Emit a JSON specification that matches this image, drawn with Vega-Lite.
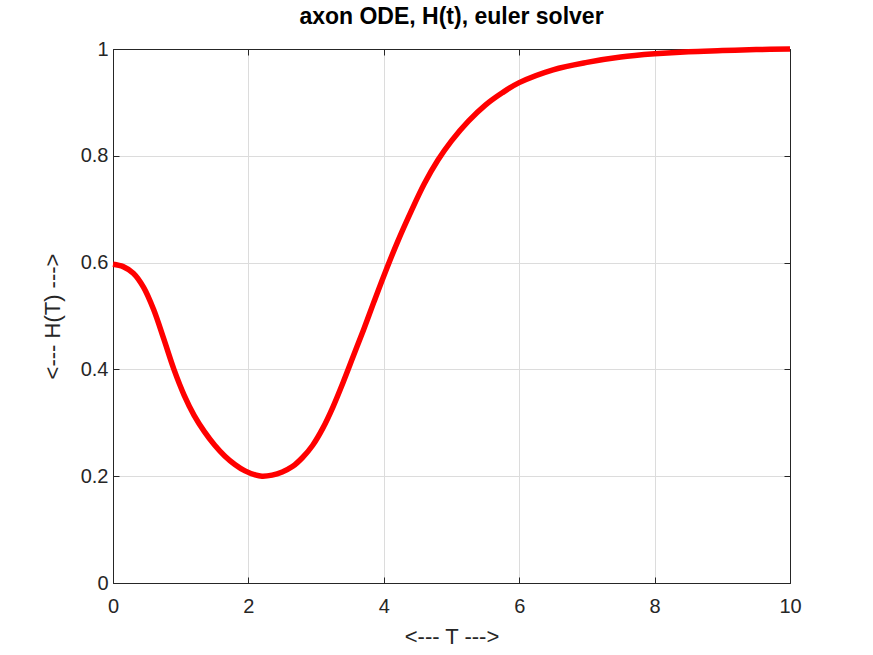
{
  "$schema": "https://vega.github.io/schema/vega-lite/v6.json",
  "autosize": {"type": "none"},
  "width": 677,
  "height": 534,
  "padding": {"left": 113, "top": 49, "right": 83, "bottom": 72},
  "background": "white",
  "title": {"text": "axon ODE, H(t), euler solver", "font": "Liberation Sans", "fontSize": 23, "fontWeight": "bold", "color": "#000000", "offset": 9, "anchor": "middle"},
  "config": {
    "view": {"stroke": "#262626", "strokeWidth": 1},
    "axis": {"labelFont": "Liberation Sans", "titleFont": "Liberation Sans", "labelFontSize": 20, "titleFontSize": 22, "titleFontWeight": "normal", "labelColor": "#262626", "titleColor": "#262626", "domainColor": "#262626", "tickColor": "#262626", "gridColor": "#dcdcdc", "gridWidth": 1, "gridOpacity": 1, "tickSize": -6, "tickWidth": 1, "labelFlush": false, "labelOverlap": false}
  },
  "data": {"values": [
    {"t": 0, "h": 0.597}, {"t": 0.15, "h": 0.5925}, {"t": 0.3, "h": 0.58}, {"t": 0.45, "h": 0.554},
    {"t": 0.6, "h": 0.512}, {"t": 0.75, "h": 0.457}, {"t": 0.9, "h": 0.4}, {"t": 1.05, "h": 0.352},
    {"t": 1.2, "h": 0.3135}, {"t": 1.35, "h": 0.2835}, {"t": 1.5, "h": 0.2585}, {"t": 1.65, "h": 0.238},
    {"t": 1.8, "h": 0.222}, {"t": 1.95, "h": 0.21}, {"t": 2.1, "h": 0.2025}, {"t": 2.2, "h": 0.2},
    {"t": 2.35, "h": 0.202}, {"t": 2.5, "h": 0.208}, {"t": 2.65, "h": 0.218}, {"t": 2.8, "h": 0.235},
    {"t": 2.95, "h": 0.258}, {"t": 3.1, "h": 0.29}, {"t": 3.25, "h": 0.33}, {"t": 3.4, "h": 0.376},
    {"t": 3.55, "h": 0.425}, {"t": 3.7, "h": 0.474}, {"t": 3.85, "h": 0.525}, {"t": 4.0, "h": 0.575},
    {"t": 4.2, "h": 0.638}, {"t": 4.4, "h": 0.695}, {"t": 4.6, "h": 0.748}, {"t": 4.8, "h": 0.792},
    {"t": 5.0, "h": 0.828}, {"t": 5.25, "h": 0.865}, {"t": 5.5, "h": 0.895}, {"t": 5.75, "h": 0.918},
    {"t": 6.0, "h": 0.937}, {"t": 6.5, "h": 0.961}, {"t": 7.0, "h": 0.975}, {"t": 7.5, "h": 0.985},
    {"t": 8.0, "h": 0.991}, {"t": 8.5, "h": 0.995}, {"t": 9.0, "h": 0.997}, {"t": 9.5, "h": 0.999},
    {"t": 10, "h": 1.0}
  ]},
  "layer": [
    {
      "mark": {"type": "line", "opacity": 0},
      "encoding": {
        "x": {"field": "t", "type": "quantitative", "scale": {"domain": [0, 10], "nice": false}, "axis": {"orient": "top", "labels": false, "title": null, "grid": false, "values": [0, 2, 4, 6, 8, 10]}},
        "y": {"field": "h", "type": "quantitative", "scale": {"domain": [0, 1], "nice": false}, "axis": {"orient": "right", "labels": false, "title": null, "grid": false, "values": [0, 0.2, 0.4, 0.6, 0.8, 1]}}
      }
    },
    {
      "mark": {"type": "line", "color": "#ff0000", "strokeWidth": 5.5, "interpolate": "catmull-rom"},
      "encoding": {
        "x": {"field": "t", "type": "quantitative", "scale": {"domain": [0, 10], "nice": false}, "axis": {"orient": "bottom", "title": "<--- T --->", "grid": true, "labelExpr": "'' + datum.value", "values": [0, 2, 4, 6, 8, 10], "labelPadding": 19, "titlePadding": 10}},
        "y": {"field": "h", "type": "quantitative", "scale": {"domain": [0, 1], "nice": false}, "axis": {"orient": "left", "title": "<--- H(T) --->", "grid": true, "labelExpr": "'' + datum.value", "values": [0, 0.2, 0.4, 0.6, 0.8, 1], "labelPadding": 11, "titlePadding": 16}}
      }
    }
  ],
  "resolve": {"axis": {"x": "independent", "y": "independent"}}
}
